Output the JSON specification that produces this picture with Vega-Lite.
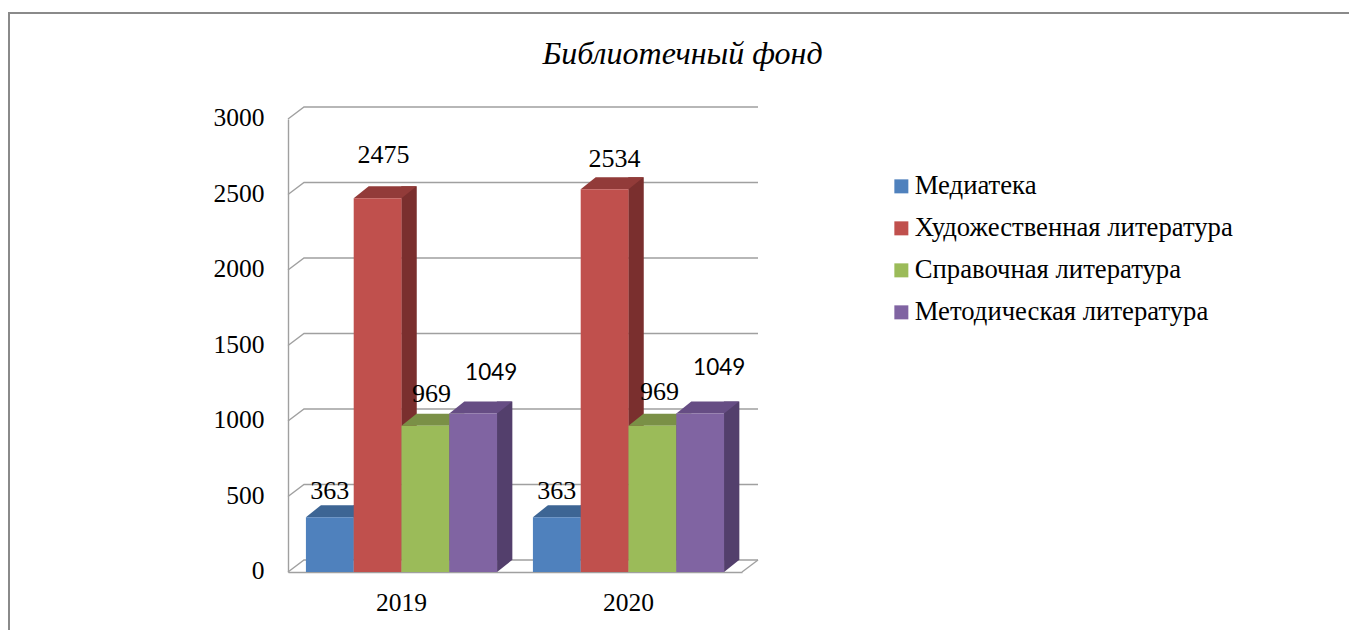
{
"$schema":"https://vega.github.io/schema/vega-lite/v6.json",
"width":1345,"height":622,
"autosize":{"type":"none"},
"padding":{"left":9,"top":13,"right":-5,"bottom":-5},
"background":"white",
"view":{"stroke":"#8a8a8a","strokeWidth":2,"fill":"white"},
"title":{"text":"Библиотечный фонд","font":"Liberation Serif","fontSize":32,"fontStyle":"italic","fontWeight":"normal","color":"#000000","anchor":"middle","frame":"group","orient":"top","offset":-58,"dx":1},
"datasets":{
"bars":[
{"year":"2019","series":"Медиатека","value":363},
{"year":"2019","series":"Художественная литература","value":2475},
{"year":"2019","series":"Справочная литература","value":969},
{"year":"2019","series":"Методическая литература","value":1049},
{"year":"2020","series":"Медиатека","value":363},
{"year":"2020","series":"Художественная литература","value":2534},
{"year":"2020","series":"Справочная литература","value":969},
{"year":"2020","series":"Методическая литература","value":1049}
],
"ticks":[{"tick":0},{"tick":500},{"tick":1000},{"tick":1500},{"tick":2000},{"tick":2500},{"tick":3000}]
},
"data":{"name":"bars"},
"layer":[
{"data":{"name":"ticks"},
 "mark":{"type":"point","filled":false,"size":1000000,"stroke":"#a0a0a0","strokeWidth":1.4,"opacity":1,"shape":"M-0.227,0 L-0.195,-0.024 L0.713,-0.024"},
 "encoding":{"x":{"datum":"2019","type":"nominal"},"y":{"field":"tick","type":"quantitative"}}},
{"data":{"values":[{"tick":0}]},
 "mark":{"type":"point","filled":false,"size":1000000,"stroke":"#a0a0a0","strokeWidth":1.4,"opacity":1,"shape":"M0.681,0 L0.713,-0.024"},
 "encoding":{"x":{"datum":"2019","type":"nominal"},"y":{"field":"tick","type":"quantitative"}}},
{"transform":[{"filter":"datum.series==='Медиатека'"}],
 "mark":{"type":"bar","width":15.5,"xOffset":-40.3,"yOffset":-12,"fill":"#2f4d71"},
 "encoding":{"x":{"field":"year","type":"nominal"},"y":{"field":"value","type":"quantitative"}}},
{"transform":[{"filter":"datum.series==='Художественная литература'"}],
 "mark":{"type":"bar","width":15.5,"xOffset":7.5,"yOffset":-12,"fill":"#7a2f2e"},
 "encoding":{"x":{"field":"year","type":"nominal"},"y":{"field":"value","type":"quantitative"}}},
{"transform":[{"filter":"datum.series==='Справочная литература'"}],
 "mark":{"type":"bar","width":15.5,"xOffset":55.3,"yOffset":-12,"fill":"#5f7036"},
 "encoding":{"x":{"field":"year","type":"nominal"},"y":{"field":"value","type":"quantitative"}}},
{"transform":[{"filter":"datum.series==='Методическая литература'"}],
 "mark":{"type":"bar","width":15.5,"xOffset":103.1,"yOffset":-12,"fill":"#533f6c"},
 "encoding":{"x":{"field":"year","type":"nominal"},"y":{"field":"value","type":"quantitative"}}},
{"mark":{"type":"point","filled":true,"opacity":1,"size":10000,"shape":"M0.478,0 L0.778,-0.24 L0.478,-0.24 Z"},
 "encoding":{"x":{"field":"year","type":"nominal"},"xOffset":{"field":"series","type":"nominal"},"y":{"datum":0,"type":"quantitative"},
 "color":{"field":"series","type":"nominal","legend":null,"scale":{"domain":["Медиатека","Художественная литература","Справочная литература","Методическая литература"],"range":["#2f4d71","#7a2f2e","#5f7036","#533f6c"]}}}},
{"mark":{"type":"point","filled":true,"opacity":1,"size":10000,"shape":"M-0.478,0 L0.478,0 L0.778,-0.24 L-0.178,-0.24 Z"},
 "encoding":{"x":{"field":"year","type":"nominal"},"xOffset":{"field":"series","type":"nominal"},"y":{"field":"value","type":"quantitative"},
 "color":{"field":"series","type":"nominal","legend":null,"scale":{"domain":["Медиатека","Художественная литература","Справочная литература","Методическая литература"],"range":["#3d6594","#923b39","#7a9046","#664d84"]}}}},
{"mark":{"type":"bar"},
 "encoding":{
 "x":{"field":"year","type":"nominal","scale":{"range":[279,733],"paddingInner":0,"paddingOuter":0},
  "axis":{"title":null,"labelAngle":0,"labelAlign":"center","offset":-63,"ticks":false,"domain":true,"domainColor":"#a0a0a0","domainWidth":1.4,"labelFont":"Liberation Serif","labelFontSize":25.5,"labelColor":"#000000","labelPadding":30,"grid":false}},
 "xOffset":{"field":"series","type":"nominal","scale":{"domain":["Медиатека","Художественная литература","Справочная литература","Методическая литература"],"paddingInner":0,"paddingOuter":0.375}},
 "y":{"field":"value","type":"quantitative","scale":{"domain":[0,3000],"range":[559,106],"nice":false},
  "axis":{"title":null,"format":"d","values":[0,500,1000,1500,2000,2500,3000],"offset":-279,"ticks":false,"domain":true,"domainColor":"#a0a0a0","domainWidth":1.4,"labelFont":"Liberation Serif","labelFontSize":25.5,"labelColor":"#000000","labelPadding":24,"labelOffset":-1.5,"grid":false}},
 "color":{"field":"series","type":"nominal","scale":{"domain":["Медиатека","Художественная литература","Справочная литература","Методическая литература"],"range":["#4f81bd","#c0504d","#9bbb59","#8064a2"]},
  "legend":{"title":null,"orient":"none","legendX":879,"legendY":160,"symbolType":"square","symbolSize":196,"symbolStrokeWidth":0,"labelFont":"Liberation Serif","labelFontSize":26.7,"labelColor":"#000000","labelLimit":600,"rowPadding":14,"labelOffset":0}}}},
{"transform":[{"filter":"datum.series==='Медиатека'"}],
 "mark":{"type":"text","font":"Liberation Serif","fontSize":26,"color":"#000000","dy":-26},
 "encoding":{"x":{"field":"year","type":"nominal"},"xOffset":{"field":"series","type":"nominal"},"y":{"field":"value","type":"quantitative"},"text":{"field":"value","type":"quantitative"}}},
{"transform":[{"filter":"datum.value===2475"}],
 "mark":{"type":"text","font":"Liberation Serif","fontSize":26,"color":"#000000","dy":-43,"dx":6},
 "encoding":{"x":{"field":"year","type":"nominal"},"xOffset":{"field":"series","type":"nominal"},"y":{"field":"value","type":"quantitative"},"text":{"field":"value","type":"quantitative"}}},
{"transform":[{"filter":"datum.value===2534"}],
 "mark":{"type":"text","font":"Liberation Serif","fontSize":26,"color":"#000000","dy":-30,"dx":10},
 "encoding":{"x":{"field":"year","type":"nominal"},"xOffset":{"field":"series","type":"nominal"},"y":{"field":"value","type":"quantitative"},"text":{"field":"value","type":"quantitative"}}},
{"transform":[{"filter":"datum.value===969 && datum.year==='2019'"}],
 "mark":{"type":"text","font":"Liberation Serif","fontSize":26,"color":"#000000","dy":-32,"dx":6},
 "encoding":{"x":{"field":"year","type":"nominal"},"xOffset":{"field":"series","type":"nominal"},"y":{"field":"value","type":"quantitative"},"text":{"field":"value","type":"quantitative"}}},
{"transform":[{"filter":"datum.value===969 && datum.year==='2020'"}],
 "mark":{"type":"text","font":"Liberation Serif","fontSize":26,"color":"#000000","dy":-34,"dx":7},
 "encoding":{"x":{"field":"year","type":"nominal"},"xOffset":{"field":"series","type":"nominal"},"y":{"field":"value","type":"quantitative"},"text":{"field":"value","type":"quantitative"}}},
{"transform":[{"filter":"datum.value===1049 && datum.year==='2019'"}],
 "mark":{"type":"text","font":"Lato","fontSize":22.5,"color":"#000000","dy":-41,"dx":18},
 "encoding":{"x":{"field":"year","type":"nominal"},"xOffset":{"field":"series","type":"nominal"},"y":{"field":"value","type":"quantitative"},"text":{"field":"value","type":"quantitative"}}},
{"transform":[{"filter":"datum.value===1049 && datum.year==='2020'"}],
 "mark":{"type":"text","font":"Lato","fontSize":22.5,"color":"#000000","dy":-46,"dx":19},
 "encoding":{"x":{"field":"year","type":"nominal"},"xOffset":{"field":"series","type":"nominal"},"y":{"field":"value","type":"quantitative"},"text":{"field":"value","type":"quantitative"}}}
],
"resolve":{"scale":{"color":"independent"}}
}
